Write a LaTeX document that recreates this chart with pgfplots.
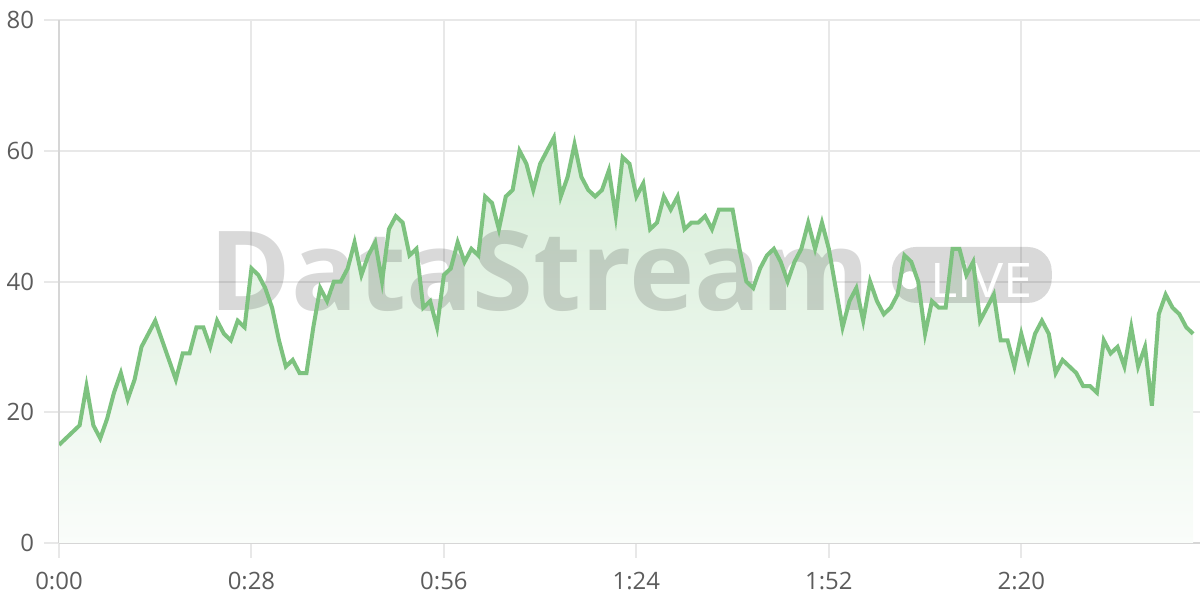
\documentclass[border=0pt]{standalone}
\usepackage{pgfplots}
\pgfplotsset{compat=1.18}
\usepackage{pgfplotstable}
\usepackage{fontspec}
\setmainfont{Open Sans}
\newfontfamily\wmfont{Open Sans}

\definecolor{linegreen}{HTML}{7DC27F}
\definecolor{areagreen}{HTML}{81C784}
\definecolor{gridgray}{HTML}{E8E8E8}
\definecolor{axisgray}{HTML}{D6D6D6}
\definecolor{labelgray}{HTML}{5C5C5C}

% seconds vs. value
\pgfplotstableread{
t v
0 15
1 16
2 17
3 18
4 24
5 18
6 16
7 19
8 23
9 26
10 22
11 25
12 30
13 32
14 34
15 31
16 28
17 25
18 29
19 29
20 33
21 33
22 30
23 34
24 32
25 31
26 34
27 33
28 42
29 41
30 39
31 36
32 31
33 27
34 28
35 26
36 26
37 33
38 39
39 37
40 40
41 40
42 42
43 46
44 41
45 44
46 46
47 40
48 48
49 50
50 49
51 44
52 45
53 36
54 37
55 33
56 41
57 42
58 46
59 43
60 45
61 44
62 53
63 52
64 48
65 53
66 54
67 60
68 58
69 54
70 58
71 60
72 62
73 53
74 56
75 61
76 56
77 54
78 53
79 54
80 57
81 50
82 59
83 58
84 53
85 55
86 48
87 49
88 53
89 51
90 53
91 48
92 49
93 49
94 50
95 48
96 51
97 51
98 51
99 45
100 40
101 39
102 42
103 44
104 45
105 43
106 40
107 43
108 45
109 49
110 45
111 49
112 45
113 39
114 33
115 37
116 39
117 34
118 40
119 37
120 35
121 36
122 38
123 44
124 43
125 40
126 32
127 37
128 36
129 36
130 45
131 45
132 41
133 43
134 34
135 36
136 38
137 31
138 31
139 27
140 32
141 28
142 32
143 34
144 32
145 26
146 28
147 27
148 26
149 24
150 24
151 23
152 31
153 29
154 30
155 27
156 33
157 27
158 30
159 21
160 35
161 38
162 36
163 35
164 33
165 32
}\streamdata

\begin{document}
\begin{tikzpicture}
\useasboundingbox (0,0) rectangle (600bp,300bp);
\begin{axis}[
    at={(29.5bp,28.5bp)}, anchor=origin,
    scale only axis,
    width=570.5bp, height=261.5bp,
    xmin=0, xmax=166, ymin=0, ymax=80,
    axis x line*=bottom, axis y line*=left,
    x axis line style={-, draw=axisgray, line width=1bp},
    y axis line style={-, draw=axisgray, line width=1bp},
    xtick={0,28,56,84,112,140},
    xticklabels={0:00,0:28,0:56,1:24,1:52,2:20},
    ytick={0,20,40,60,80},
    grid=major,
    major grid style={draw=gridgray, line width=1bp},
    tick align=outside,
    major tick length=7.5bp,
    tick style={draw=gridgray, line width=1bp},
    /pgf/number format/assume math mode=true,
    tick label style={font=\fontsize{12}{14}\selectfont, text=labelgray, inner sep=0pt},
    xticklabel style={anchor=north, yshift=-7bp},
    yticklabel style={anchor=east, xshift=-4.8bp},
]
\addplot[draw=none, top color=areagreen!32, bottom color=areagreen!4]
    table[x=t, y=v] {\streamdata} \closedcycle;

% watermark
\node[anchor=base, text=black, opacity=0.15, inner sep=0pt]
    at (axis cs:69.96,35.49) {\resizebox{330bp}{40bp}{\wmfont\bfseries DataStream}};
\fill[black, opacity=0.15, rounded corners=12bp]
    (axis cs:121.17,36.72) rectangle (axis cs:144.43,45.28);
\fill[white] (axis cs:123.8,40.2) circle[radius=4.5bp];
\node[anchor=base, text=white, inner sep=0pt]
    at (axis cs:134.2,37.6) {\resizebox{51bp}{17bp}{\wmfont LIVE}};

\addplot[draw=linegreen, line width=2bp] table[x=t, y=v] {\streamdata};
\end{axis}
\end{tikzpicture}
\end{document}
